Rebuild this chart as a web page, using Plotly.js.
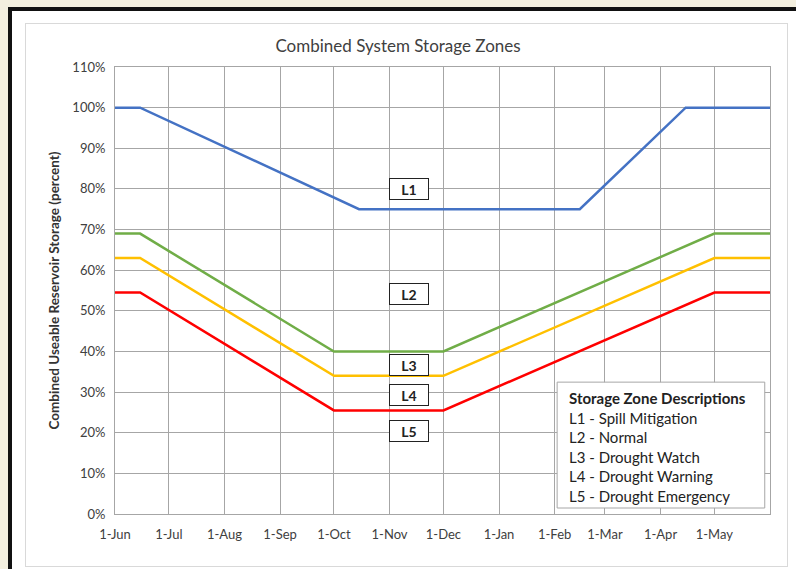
<!DOCTYPE html>
<html>
<head>
<meta charset="utf-8">
<script src="https://cdn.plot.ly/plotly-3.0.1.min.js"></script>
<style>
  html, body { margin: 0; padding: 0; background: #f3efdf; width: 796px; height: 569px; overflow: hidden; }
  #frame { position: absolute; left: 8px; top: 7px; width: 800px; height: 580px; background: #ffffff;
           border-left: 4px solid #111; border-top: 4px solid #111; box-sizing: border-box; }
  #panel { position: absolute; left: 25px; top: 23px; width: 763px; height: 544px; border: 1px solid #d9d9d9; box-sizing: border-box; }
  #chart { position: absolute; left: 0; top: 0; width: 796px; height: 569px; }
</style>
</head>
<body>
<div id="frame"></div>
<div id="panel"></div>
<div id="chart"></div>
<script>
// ---- data ----
const l1Dates = ['2022-06-01', '2022-06-15', '2022-10-15', '2023-02-15', '2023-04-15', '2023-06-01'];
const l1Values = [100, 100, 75, 75, 100, 100];
const lowDates = ['2022-06-01', '2022-06-15', '2022-10-01', '2022-12-01', '2023-05-01', '2023-06-01'];
const l2Values = [69, 69, 40, 40, 69, 69];
const l3Values = [63, 63, 34, 34, 63, 63];
const l4Values = [54.5, 54.5, 25.5, 25.5, 54.5, 54.5];
const tickDates = ['2022-06-01', '2022-07-01', '2022-08-01', '2022-09-01', '2022-10-01', '2022-11-01',
                   '2022-12-01', '2023-01-01', '2023-02-01', '2023-03-01', '2023-04-01', '2023-05-01'];
const tickLabels = ['1-Jun', '1-Jul', '1-Aug', '1-Sep', '1-Oct', '1-Nov', '1-Dec', '1-Jan', '1-Feb', '1-Mar', '1-Apr', '1-May'];
const yTickValues = [0, 10, 20, 30, 40, 50, 60, 70, 80, 90, 100, 110];
const yTickLabels = ['0%', '10%', '20%', '30%', '40%', '50%', '60%', '70%', '80%', '90%', '100%', '110%'];
const zoneLabels = ['L1', 'L2', 'L3', 'L4', 'L5'];
const zoneLabelY = [80, 54.2, 36.7, 29.3, 20.4];
const zoneLabelDate = '2022-11-12';
const legendTitle = 'Storage Zone Descriptions';
const legendLines = ['L1 - Spill Mitigation', 'L2 - Normal', 'L3 - Drought Watch', 'L4 - Drought Warning', 'L5 - Drought Emergency'];

const FONT = 'Lato, "Open Sans", sans-serif';
const TXT = '#404040';

function line(x, y, color) {
  return { type: 'scatter', mode: 'lines', x: x, y: y, line: { color: color, width: 2.5 }, hoverinfo: 'skip', showlegend: false };
}

const traces = [
  line(l1Dates, l1Values, '#4472C4'),
  line(lowDates, l2Values, '#70AD47'),
  line(lowDates, l3Values, '#FFC000'),
  line(lowDates, l4Values, '#FF0000')
];

const annotations = zoneLabels.map((t, i) => ({
  x: zoneLabelDate, y: zoneLabelY[i], xref: 'x', yref: 'y',
  text: '<b>' + t + '</b>', showarrow: false,
  font: { family: FONT, size: 14, color: '#222' },
  bgcolor: '#ffffff', bordercolor: '#222', borderwidth: 1, borderpad: 1, width: 36, height: 18
}));

annotations.push({
  xref: 'paper', yref: 'paper', x: 0.690, y: 0.285, xanchor: 'left', yanchor: 'top',
  align: 'left', showarrow: false,
  text: '<b>' + legendTitle + '</b><br>' + legendLines.join('<br>'),
  font: { family: FONT, size: 15, color: '#222' }
});

const layout = {
  width: 796, height: 569,
  margin: { l: 115, r: 26, t: 67, b: 55 },
  paper_bgcolor: 'rgba(0,0,0,0)', plot_bgcolor: '#ffffff',
  font: { family: FONT, color: TXT, size: 13 },
  title: { text: 'Combined System Storage Zones', font: { family: FONT, size: 17, color: TXT }, x: 0.5, xanchor: 'center', y: 0.919, yanchor: 'middle' },
  xaxis: {
    type: 'date', range: ['2022-06-01', '2023-06-01'], tickvals: tickDates, ticktext: tickLabels,
    showgrid: true, gridcolor: '#a6a6a6', gridwidth: 1, showline: true, linecolor: '#a6a6a6', linewidth: 1, mirror: true,
    ticks: '', zeroline: false, tickfont: { family: FONT, size: 13, color: TXT }, ticklabelstandoff: 8
  },
  yaxis: {
    range: [0, 110], tickvals: yTickValues, ticktext: yTickLabels,
    showgrid: true, gridcolor: '#a6a6a6', gridwidth: 1, showline: true, linecolor: '#a6a6a6', linewidth: 1, mirror: true,
    ticks: '', zeroline: false, tickfont: { family: FONT, size: 13, color: TXT }, ticklabelstandoff: 6,
    title: { text: '<b>Combined Useable Reservoir Storage (percent)</b>', font: { family: FONT, size: 13.5, color: '#333' }, standoff: 9 }
  },
  shapes: [{
    type: 'rect', xref: 'paper', yref: 'paper', x0: 0.675, x1: 0.992, y0: 0.0134, y1: 0.295,
    fillcolor: '#ffffff', line: { color: '#a6a6a6', width: 1 }, layer: 'above'
  }],
  annotations: annotations,
  showlegend: false
};

Plotly.newPlot('chart', traces, layout, { displayModeBar: false, staticPlot: true });
</script>
</body>
</html>
